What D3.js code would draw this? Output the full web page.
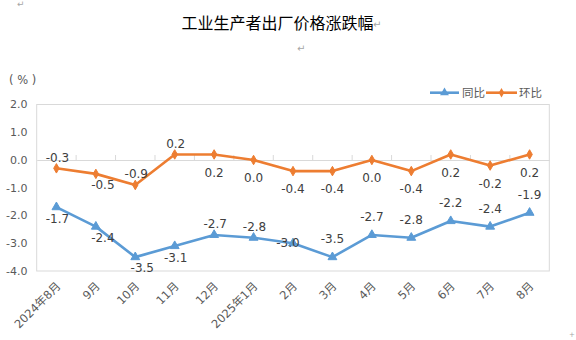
<!DOCTYPE html>
<html>
<head>
<meta charset="utf-8">
<script src="https://cdn.jsdelivr.net/npm/d3@7"></script>
<style>
  html, body { margin: 0; padding: 0; background: #fff; }
  svg { display: block; }
  text { font-family: "DejaVu Sans", "Noto Sans CJK SC", sans-serif; }
  .cjk { font-family: "Noto Sans CJK SC", "DejaVu Sans", sans-serif; }
</style>
</head>
<body>
<svg id="chart" width="576" height="340"></svg>
<script>
// Months on the category axis
const categories = ["2024年8月", "9月", "10月", "11月", "12月", "2025年1月", "2月", "3月", "4月", "5月", "6月", "7月", "8月"];

// Year-on-year change (%)
const yoyValues = [-1.7, -2.4, -3.5, -3.1, -2.7, -2.8, -3.0, -3.5, -2.7, -2.8, -2.2, -2.4, -1.9];
// Month-on-month change (%)
const momValues = [-0.3, -0.5, -0.9, 0.2, 0.2, 0.0, -0.4, -0.4, 0.0, -0.4, 0.2, -0.2, 0.2];

// Value-axis ticks
const yTicks = [2.0, 1.0, 0.0, -1.0, -2.0, -3.0, -4.0];

// Series names
const seriesNames = ["同比", "环比"];

// Where each data label sits relative to its point
const yoyLabelPlacement = ["below", "belowRight", "belowRight", "below", "above", "above", "centerLeft", "farAbove", "farAbove", "farAbove", "farAbove", "farAbove", "farAbove"];
const momLabelPlacement = ["above", "belowRight", "above", "above", "farBelow", "farBelow", "farBelow", "farBelow", "farBelow", "farBelow", "farBelow", "farBelow", "farBelow"];

const placementOffset = {
  above:      { dx: 1,  dy: -11 },
  below:      { dx: 1,  dy: 12 },
  belowRight: { dx: 7,  dy: 11 },
  farAbove:   { dx: 0,  dy: -18 },
  farBelow:   { dx: 0,  dy: 18 },
  centerLeft: { dx: -5, dy: -1 }
};

const BLUE = "#5B9BD5";
const ORANGE = "#ED7D31";
const GRID = "#d9d9d9";
const AXIS_TEXT = "#595959";
const LABEL_TEXT = "#404040";

const svg = d3.select("#chart");

const plot = { left: 36.7, right: 549.3, top: 104.5, bottom: 271 };

const x = d3.scaleBand().domain(categories).range([plot.left, plot.right]);
const y = d3.scaleLinear().domain([-4, 2]).range([plot.bottom, plot.top]);
const cx = d => x(d) + x.bandwidth() / 2;

// Editor paragraph marks around the title
svg.append("text").attr("x", 17).attr("y", 7).attr("font-size", 9).attr("fill", "#a6a6a6").text("↵");

svg.append("text")
  .attr("class", "cjk")
  .attr("x", 181.5).attr("y", 29)
  .attr("font-size", 16).attr("fill", "#000")
  .text("工业生产者出厂价格涨跌幅");
svg.append("text").attr("x", 373).attr("y", 28).attr("font-size", 10).attr("fill", "#a6a6a6").text("↵");
svg.append("text").attr("x", 297).attr("y", 52).attr("font-size", 10).attr("fill", "#a6a6a6").text("↵");
svg.append("text").attr("x", 569).attr("y", 337).attr("font-size", 7).attr("fill", "#a6a6a6").text("+");

// Unit label
svg.append("text")
  .attr("x", 9).attr("y", 80)
  .attr("dy", "0.36em")
  .attr("font-size", 11.5).attr("fill", AXIS_TEXT)
  .attr("xml:space", "preserve")
  .text("( % )");

// Plot area frame
svg.append("rect")
  .attr("x", plot.left).attr("y", plot.top)
  .attr("width", plot.right - plot.left).attr("height", plot.bottom - plot.top)
  .attr("fill", "none").attr("stroke", GRID).attr("stroke-width", 1);

// Value axis labels
svg.append("g")
  .selectAll("text")
  .data(yTicks)
  .join("text")
  .attr("x", 27.5)
  .attr("y", d => y(d))
  .attr("dy", "0.36em")
  .attr("text-anchor", "end")
  .attr("font-size", 11)
  .attr("fill", AXIS_TEXT)
  .text(d => d.toFixed(1));

// Category axis on the zero line, with ticks between categories
const xAxis = d3.axisTop(x).tickSize(0).tickFormat("");
svg.append("g")
  .attr("transform", `translate(0,${y(0)})`)
  .call(xAxis)
  .call(g => g.select(".domain").attr("stroke", GRID).attr("stroke-width", 1));

svg.append("g")
  .selectAll("line")
  .data(categories.slice(1))
  .join("line")
  .attr("x1", d => x(d)).attr("x2", d => x(d))
  .attr("y1", y(0)).attr("y2", y(0) - 5)
  .attr("stroke", GRID).attr("stroke-width", 1);

// Category labels, rotated
svg.append("g")
  .selectAll("text")
  .data(categories)
  .join("text")
  .attr("transform", d => `translate(${cx(d) + 2},${plot.bottom + 13}) rotate(-45)`)
  .attr("text-anchor", "end")
  .attr("dy", "0.35em")
  .attr("font-size", 11.5)
  .attr("fill", AXIS_TEXT)
  .text(d => d);

// Series lines and markers
const line = d3.line().x((d, i) => cx(categories[i])).y(d => y(d));

function drawSeries(values, color, symbolType, symbolSize) {
  const g = svg.append("g");
  g.append("path")
    .datum(values)
    .attr("d", line)
    .attr("fill", "none")
    .attr("stroke", color)
    .attr("stroke-width", 2.6)
    .attr("stroke-linejoin", "round")
    .attr("stroke-linecap", "round");
  g.selectAll("path.marker")
    .data(values)
    .join("path")
    .attr("class", "marker")
    .attr("transform", (d, i) => `translate(${cx(categories[i])},${y(d)})`)
    .attr("d", d3.symbol().type(symbolType).size(symbolSize))
    .attr("fill", color)
    .attr("stroke", color)
    .attr("stroke-width", 1);
  return g;
}

function drawLabels(values, placements) {
  svg.append("g")
    .selectAll("text")
    .data(values)
    .join("text")
    .attr("x", (d, i) => cx(categories[i]) + placementOffset[placements[i]].dx)
    .attr("y", (d, i) => y(d) + placementOffset[placements[i]].dy)
    .attr("dy", "0.36em")
    .attr("text-anchor", "middle")
    .attr("font-size", 12)
    .attr("fill", LABEL_TEXT)
    .text(d => d.toFixed(1));
}

drawSeries(yoyValues, BLUE, d3.symbolTriangle, 34);
drawSeries(momValues, ORANGE, d3.symbolDiamond, 26);
drawLabels(yoyValues, yoyLabelPlacement);
drawLabels(momValues, momLabelPlacement);

// Legend
const legendY = 92.7;
const legendItems = [
  { name: seriesNames[0], color: BLUE, symbol: d3.symbolTriangle, size: 34, x0: 430, x1: 459, tx: 462 },
  { name: seriesNames[1], color: ORANGE, symbol: d3.symbolDiamond, size: 26, x0: 486, x1: 517, tx: 519 }
];
const legend = svg.append("g");
legendItems.forEach(item => {
  legend.append("line")
    .attr("x1", item.x0).attr("x2", item.x1)
    .attr("y1", legendY).attr("y2", legendY)
    .attr("stroke", item.color).attr("stroke-width", 2.6);
  legend.append("path")
    .attr("transform", `translate(${(item.x0 + item.x1) / 2},${legendY})`)
    .attr("d", d3.symbol().type(item.symbol).size(item.size))
    .attr("fill", item.color);
  legend.append("text")
    .attr("class", "cjk")
    .attr("x", item.tx).attr("y", legendY)
    .attr("dy", "0.36em")
    .attr("font-size", 11.5)
    .attr("fill", AXIS_TEXT)
    .text(item.name);
});
</script>
</body>
</html>
